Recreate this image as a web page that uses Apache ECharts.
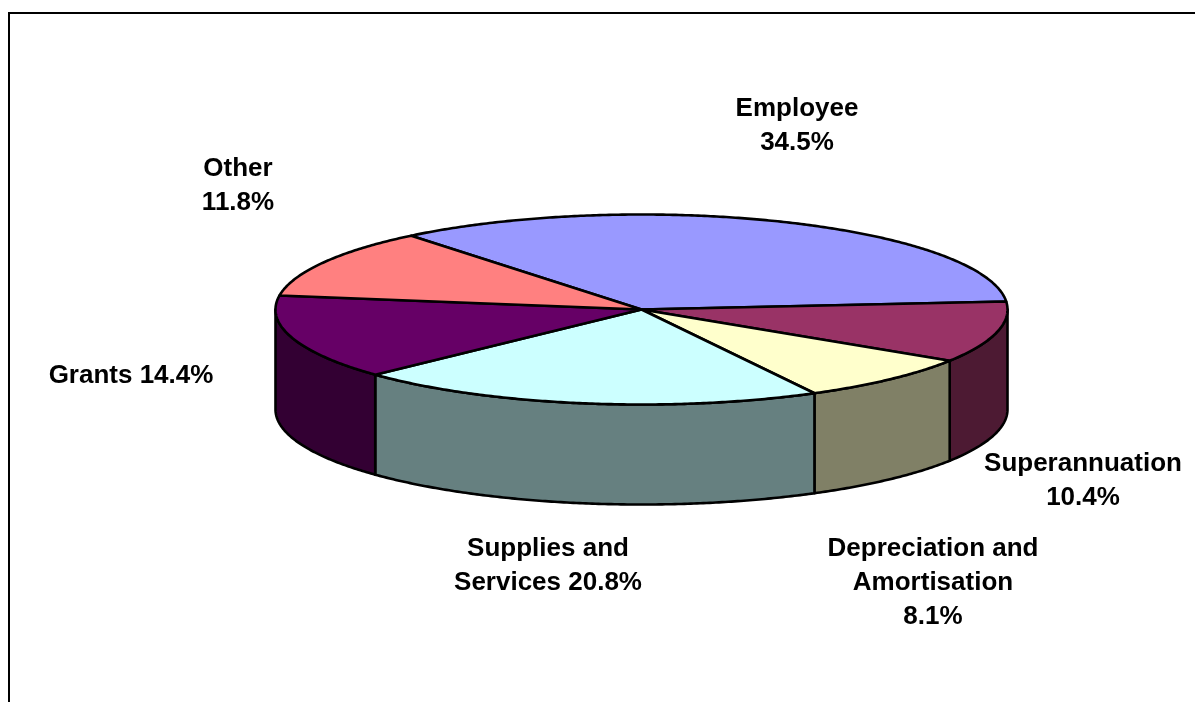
<!DOCTYPE html>
<html>
<head>
<meta charset="utf-8">
<style>
    html, body { margin: 0; padding: 0; background: #fff; }
    #chart { width: 1195px; height: 702px; }
</style>
</head>
<body>
<div id="chart"></div>
<script src="https://cdn.jsdelivr.net/npm/echarts@6/dist/echarts.min.js"></script>
<script>
    var categories = ['Employee', 'Superannuation', 'Depreciation and Amortisation', 'Supplies and Services', 'Grants', 'Other'];
    var values = [34.5, 10.4, 8.1, 20.8, 14.4, 11.8];
    var topColors = ['#9999ff', '#993366', '#ffffcc', '#ccffff', '#660066', '#ff8080'];
    var wallColors = ['#4d4d80', '#4d1a33', '#808066', '#668080', '#330033', '#804040'];
    var labelTexts = ['Employee\n34.5%', 'Superannuation\n10.4%', 'Depreciation and\nAmortisation\n8.1%', 'Supplies and\nServices 20.8%', 'Grants 14.4%', 'Other\n11.8%'];
    var labelCenters = [[797, 126], [1083, 481], [933, 583], [548, 566], [131, 376], [238, 186]];

    // the tilted pie, in pixels
    var cx = 641.5, cy = 309.5, rx = 366, ry = 95, depth = 100, startAngle = 129;
    var total = values.reduce(function (a, b) { return a + b; }, 0);

    function sliceRange(i) {
        var before = 0;
        for (var k = 0; k < i; k++) before += values[k];
        var a0 = startAngle - before / total * 360;
        return [a0, a0 - values[i] / total * 360];
    }

    function arcPoints(a0, a1, dy) {
        var pts = [];
        var n = Math.max(2, Math.ceil(Math.abs(a0 - a1) * 2));
        for (var j = 0; j <= n; j++) {
            var a = (a0 + (a1 - a0) * j / n) * Math.PI / 180;
            pts.push([cx + rx * Math.cos(a), cy - ry * Math.sin(a) + dy]);
        }
        return pts;
    }

    function renderWall(params, api) {
        var r = sliceRange(api.value(1));
        // only the front half of the rim shows: 0 to -180 degrees
        var a0 = Math.min(r[0], 0), a1 = Math.max(r[1], -180);
        if (a0 <= a1) return { type: 'group', children: [] };
        var points = arcPoints(a0, a1, 0).concat(arcPoints(a1, a0, depth));
        return {
            type: 'polygon',
            shape: { points: points },
            style: { fill: wallColors[api.value(1)], stroke: '#000', lineWidth: 2.6, lineJoin: 'round' }
        };
    }

    function renderTop(params, api) {
        var r = sliceRange(api.value(1));
        var points = [[cx, cy]].concat(arcPoints(r[0], r[1], 0));
        return {
            type: 'polygon',
            shape: { points: points },
            style: { fill: topColors[api.value(1)], stroke: '#000', lineWidth: 2.6, lineJoin: 'round' }
        };
    }

    var seriesData = values.map(function (v, i) { return [v, i]; });

    var labels = labelTexts.map(function (t, i) {
        return {
            type: 'text',
            x: labelCenters[i][0],
            y: labelCenters[i][1],
            silent: true,
            style: {
                text: t,
                fill: '#000',
                font: 'bold 26px "Liberation Sans", Arial, sans-serif',
                lineHeight: 34,
                align: 'center',
                verticalAlign: 'middle'
            }
        };
    });

    var frame = [
        { type: 'line', shape: { x1: 9, y1: 13, x2: 1195, y2: 13 }, style: { stroke: '#000', lineWidth: 2 } },
        { type: 'line', shape: { x1: 9, y1: 12, x2: 9, y2: 702 }, style: { stroke: '#000', lineWidth: 2 } }
    ];

    var chart = echarts.init(document.getElementById('chart'), null, { renderer: 'canvas' });
    chart.setOption({
        backgroundColor: '#fff',
        animation: false,
        tooltip: { show: false },
        graphic: frame.concat(labels),
        series: [
            { name: 'rim', type: 'custom', coordinateSystem: 'none', z: 1, silent: true, renderItem: renderWall, data: seriesData },
            { name: 'top', type: 'custom', coordinateSystem: 'none', z: 2, silent: true, renderItem: renderTop, data: seriesData }
        ]
    });
</script>
</body>
</html>
